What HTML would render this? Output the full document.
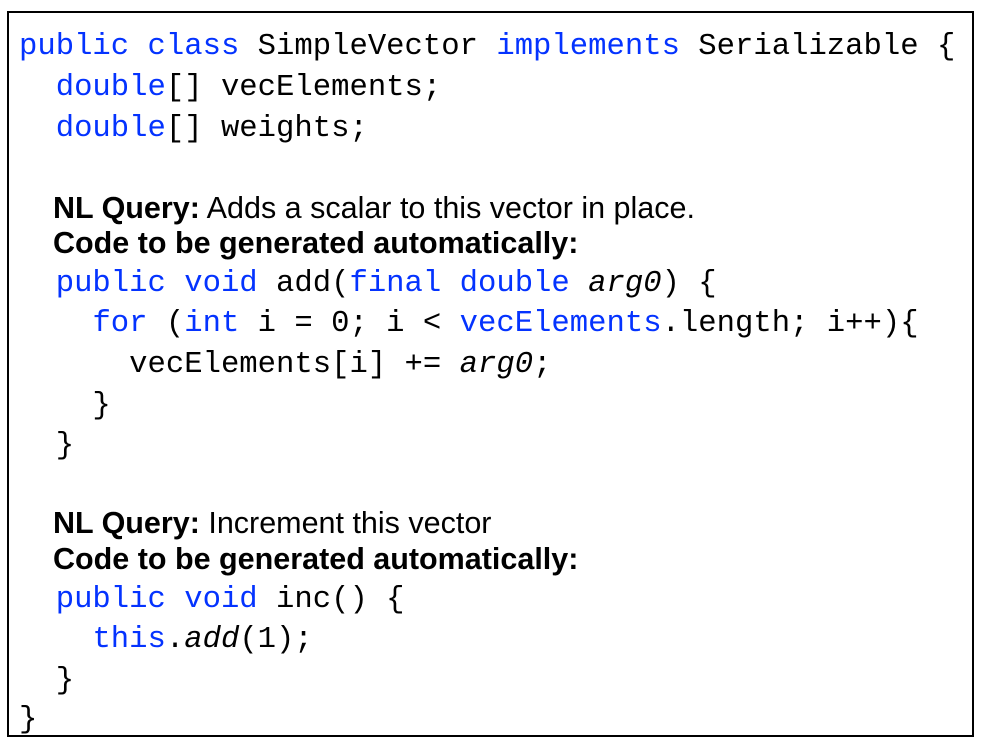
<!DOCTYPE html>
<html><head><meta charset="utf-8"><style>
html,body{margin:0;padding:0;background:#fff;width:981px;height:743px;overflow:hidden}
#box{position:absolute;left:7px;top:11px;width:963px;height:722px;border:2px solid #000}
.l{position:absolute;white-space:pre;font-family:"Liberation Mono",monospace;font-size:30.6px;line-height:40px;height:40px;color:#000}
.s{position:absolute;white-space:pre;font-family:"Liberation Sans",sans-serif;font-size:30.5px;line-height:36px;color:#000}
.k{color:#0433ff}
b{font-weight:bold}
</style></head><body>
<div id="box"></div>
<div class="l" style="left:19px;top:27px"><span class="k">public class</span> SimpleVector <span class="k">implements</span> Serializable {</div>
<div class="l" style="left:19px;top:68px">  <span class="k">double</span>[] vecElements;</div>
<div class="l" style="left:19px;top:109px">  <span class="k">double</span>[] weights;</div>
<div class="s" style="left:53px;top:190px"><b>NL Query:</b> Adds a scalar to this vector in place.</div>
<div class="s" style="left:53px;top:225px"><b>Code to be generated automatically:</b></div>
<div class="l" style="left:19px;top:264px">  <span class="k">public void</span> add(<span class="k">final double</span> <i>arg0</i>) {</div>
<div class="l" style="left:19px;top:304px">    <span class="k">for</span> (<span class="k">int</span> i = 0; i &lt; <span class="k">vecElements</span>.length; i++){</div>
<div class="l" style="left:19px;top:345px">      vecElements[i] += <i>arg0</i>;</div>
<div class="l" style="left:19px;top:386px">    }</div>
<div class="l" style="left:19px;top:426px">  }</div>
<div class="s" style="left:53px;top:505px"><b>NL Query:</b> Increment this vector</div>
<div class="s" style="left:53px;top:541px"><b>Code to be generated automatically:</b></div>
<div class="l" style="left:19px;top:580px">  <span class="k">public void</span> inc() {</div>
<div class="l" style="left:19px;top:620px">    <span class="k">this</span>.<i>add</i>(1);</div>
<div class="l" style="left:19px;top:661px">  }</div>
<div class="l" style="left:19px;top:700px">}</div>
</body></html>
